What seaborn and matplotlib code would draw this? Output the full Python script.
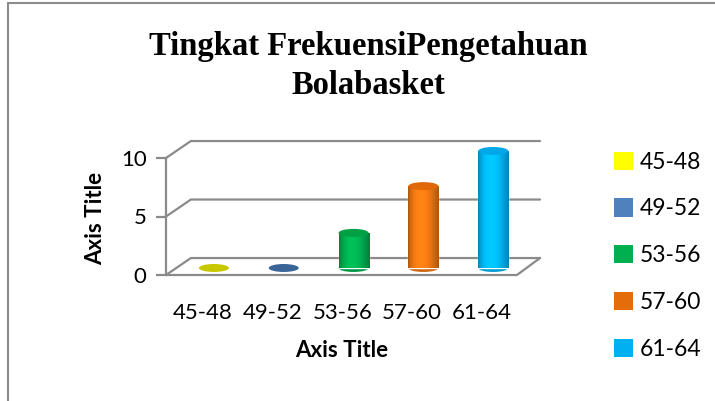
import numpy as np
import matplotlib
matplotlib.use("Agg")
import matplotlib.pyplot as plt
from matplotlib.patches import Ellipse, Rectangle, Patch
import matplotlib.colors as mcolors
import seaborn as sns

# data
categories = ["45-48", "49-52", "53-56", "57-60", "61-64"]
freq = [0, 0, 3, 7, 10]
yticks = [0, 5, 10]
legend_colors = ["#FFFF00", "#4F81BD", "#00B050", "#E46C0A", "#00B0F0"]
body_colors = ["#D2D200", "#3A6496", "#00B050", "#F07812", "#00B8F5"]
cap_colors = ["#C8C800", "#3A6496", "#00A044", "#E06808", "#00A8E8"]

sns.set_theme(style="white")
plt.rcParams["font.family"] = ["Lato", "DejaVu Sans"]
plt.rcParams["text.color"] = "black"
plt.rcParams["xtick.color"] = "black"
plt.rcParams["ytick.color"] = "black"
plt.rcParams["axes.labelcolor"] = "black"

W, H = 715, 401
fig = plt.figure(figsize=(W / 100, H / 100), dpi=100)

# axes placed so the floor front line sits at y=275px, left spine at x=166px
ax = fig.add_axes([166 / W, (H - 275) / H, 374 / W, 140.4 / H])

sns.barplot(x=categories, y=freq, hue=categories, palette=body_colors,
            width=0.43, saturation=1, legend=False, ax=ax, zorder=3)

xl = (-0.686, 4.67)
yl = (-0.6, 11.4)

# fake 3d frame: back wall gridlines and floor
grid_c = "#8A8A8A"
fx_l, bx_l, fx_r = -0.686, -0.33, 4.34
for v in yticks:
    ax.plot([fx_l, bx_l, xl[1]], [v - 0.6, v + 0.85, v + 0.85],
            color=grid_c, lw=1.6, clip_on=False, zorder=1)
ax.plot([fx_l, fx_r, xl[1]], [-0.6, -0.6, 0.85], color=grid_c, lw=1.6,
        clip_on=False, zorder=1)

# cylinders
ew, eh = 0.43, 0.68
for i, p in enumerate(ax.patches):
    x0, w, h = p.get_x(), p.get_width(), p.get_height()
    xc = x0 + w / 2
    if h > 0:
        base = np.array(mcolors.to_rgb(body_colors[i]))
        t = np.linspace(0, 1, 64)
        shade = 0.72 + 0.38 * np.sin(np.pi * t ** 0.8)
        img = np.clip(base[None, :] * shade[:, None], 0, 1)[None, :, :]
        im = ax.imshow(img, extent=(x0, x0 + w, 0, h), aspect="auto",
                       zorder=3.5, interpolation="bilinear")
        im.set_clip_path(p)
        ax.add_patch(Ellipse((xc, 0), ew, eh,
                             facecolor=np.clip(base * 0.85, 0, 1),
                             zorder=2.9, lw=0))
    ax.add_patch(Ellipse((xc, h), ew, eh, facecolor=cap_colors[i], lw=0, zorder=4))

ax.set_xlim(xl)
ax.set_ylim(yl)

for s in ["top", "right", "bottom"]:
    ax.spines[s].set_visible(False)
ax.spines["left"].set_color(grid_c)
ax.spines["left"].set_linewidth(1.6)
ax.spines["left"].set_bounds(-0.6, 9.4)

ax.set_yticks([v - 0.6 for v in yticks], [str(v) for v in yticks])
ax.tick_params(axis="y", length=7, width=1.6, color=grid_c, pad=7,
               labelsize=16, left=True, labelcolor="black")
ax.set_xticks([i - 0.16 for i in range(len(categories))], categories)
ax.tick_params(axis="x", length=0, pad=20, labelsize=16, labelcolor="black")

ax.set_xlabel("Axis Title", fontsize=16, fontweight="bold")
ax.xaxis.set_label_coords(0.469, -0.46)
ax.set_ylabel("Axis Title", fontsize=16, fontweight="bold")
ax.yaxis.set_label_coords(-0.16, 0.40)

handles = [Patch(facecolor=c, edgecolor="none") for c in legend_colors]
fig.legend(handles, categories, loc="upper left",
           bbox_to_anchor=(593 / W, 1 - 131 / H), frameon=False,
           fontsize=16.5, handlelength=0.85, handleheight=0.85,
           handletextpad=0.3, labelspacing=1.12)

fig.text(368 / W, 1 - 66 / H, "Tingkat FrekuensiPengetahuan\nBolabasket",
         ha="center", va="center", fontsize=23.5, fontweight="bold",
         family=["Liberation Serif", "DejaVu Serif"], linespacing=1.3)

fig.patches.append(Rectangle((8 / W, -0.1), 1.2, 1.1 - 3 / H, transform=fig.transFigure,
                             fill=False, edgecolor="#8C8C8C", lw=1.5))

fig.savefig("out.png", dpi=100)
